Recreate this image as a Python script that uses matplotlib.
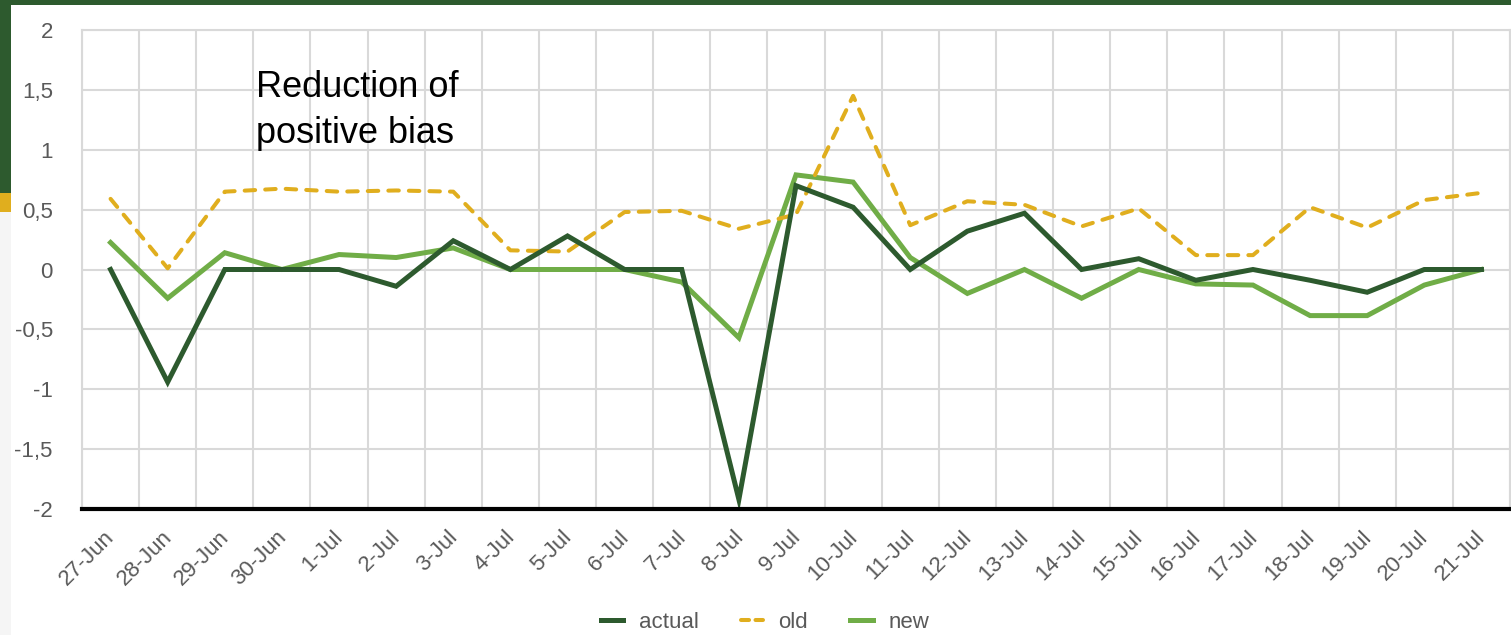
import matplotlib
matplotlib.use("Agg")
import matplotlib.pyplot as plt
import matplotlib.transforms as mtransforms
from matplotlib.patches import Rectangle
from matplotlib.lines import Line2D

dates = ["27-Jun", "28-Jun", "29-Jun", "30-Jun", "1-Jul", "2-Jul", "3-Jul",
         "4-Jul", "5-Jul", "6-Jul", "7-Jul", "8-Jul", "9-Jul", "10-Jul",
         "11-Jul", "12-Jul", "13-Jul", "14-Jul", "15-Jul", "16-Jul",
         "17-Jul", "18-Jul", "19-Jul", "20-Jul", "21-Jul"]

actual = [0.00, -0.94, 0.00, 0.00, 0.00, -0.14, 0.24, 0.00, 0.28, 0.00,
          0.00, -1.92, 0.70, 0.52, 0.00, 0.32, 0.47, 0.00, 0.09, -0.09,
          0.00, -0.09, -0.19, 0.00, 0.00]

old = [0.59, 0.01, 0.65, 0.675, 0.65, 0.66, 0.65, 0.16, 0.15, 0.48,
       0.49, 0.34, 0.46, 1.45, 0.37, 0.57, 0.54, 0.36, 0.51, 0.12,
       0.12, 0.52, 0.35, 0.58, 0.64]

new = [0.225, -0.24, 0.14, 0.00, 0.125, 0.10, 0.18, 0.00, 0.00, 0.00,
       -0.105, -0.57, 0.79, 0.73, 0.10, -0.20, 0.00, -0.24, 0.00, -0.12,
       -0.13, -0.385, -0.385, -0.13, 0.00]

y_ticks = [-2, -1.5, -1, -0.5, 0, 0.5, 1, 1.5, 2]
y_labels = ["-2", "-1,5", "-1", "-0,5", "0", "0,5", "1", "1,5", "2"]

C_ACTUAL = "#2d5a2e"
C_OLD = "#e0ae1e"
C_NEW = "#70ad47"
C_GRID = "#d9d9d9"
C_TEXT = "#595959"

plt.rcParams["font.family"] = ["Liberation Sans", "DejaVu Sans"]

W, H = 1511, 635
fig = plt.figure(figsize=(W / 100, H / 100), dpi=100)
fig.patch.set_facecolor("white")

# decorative frame: top band and left side strip
fig.patches.append(Rectangle((0, 1 - 5 / H), 1, 5 / H, transform=fig.transFigure,
                             facecolor=C_ACTUAL, edgecolor="none", zorder=0))
fig.patches.append(Rectangle((0, 0), 11 / W, 1 - 212 / H, transform=fig.transFigure,
                             facecolor="#f5f5f5", edgecolor="none", zorder=0))
fig.patches.append(Rectangle((0, 1 - 212 / H), 11 / W, 19 / H, transform=fig.transFigure,
                             facecolor=C_OLD, edgecolor="none", zorder=0))
fig.patches.append(Rectangle((0, 1 - 193 / H), 11 / W, 193 / H, transform=fig.transFigure,
                             facecolor=C_ACTUAL, edgecolor="none", zorder=0))

left, right, top, bottom = 82, 1510, 30, 509
ax = fig.add_axes([left / W, 1 - bottom / H, (right - left) / W, (bottom - top) / H])

x = list(range(len(dates)))
ax.plot(x, new, color=C_NEW, lw=3.6, solid_joinstyle="miter", zorder=3)
ax.plot(x, old, color=C_OLD, lw=2.9, linestyle=(0, (2.6, 2.5)),
        dash_capstyle="round", zorder=4)
ax.plot(x, actual, color=C_ACTUAL, lw=3.6, solid_joinstyle="miter", zorder=5)

ax.set_xlim(-0.5, len(dates) - 0.5)
ax.set_ylim(-2, 2)

ax.set_yticks(y_ticks)
ax.set_yticklabels(y_labels)
ax.set_xticks(x)
ax.set_xticklabels(dates, rotation=45, ha="right", va="center",
                   rotation_mode="anchor")
ax.set_xticks([i + 0.5 for i in range(-1, len(dates))], minor=True)

ax.tick_params(axis="both", which="both", length=0, labelsize=16,
               labelcolor=C_TEXT)
ax.tick_params(axis="y", pad=21)
ax.tick_params(axis="x", pad=18)
offset = mtransforms.ScaledTranslation(1 / 100, 0, fig.dpi_scale_trans)
for lab in ax.get_xticklabels():
    lab.set_transform(lab.get_transform() + offset)

ax.grid(axis="y", which="major", color=C_GRID, lw=1.5)
ax.grid(axis="x", which="minor", color=C_GRID, lw=1.5)
ax.grid(axis="x", which="major", visible=False)
ax.set_axisbelow(True)

for side in ("left", "right", "top"):
    ax.spines[side].set_color(C_GRID)
    ax.spines[side].set_linewidth(1.5)
ax.spines["bottom"].set_color("black")
ax.spines["bottom"].set_linewidth(3)
ax.spines["bottom"].set_zorder(6)

ax.text(256 / W, 1 - 70 / H, "Reduction of\npositive bias", transform=fig.transFigure,
        fontsize=26, color="black", ha="left", va="top", linespacing=1.42)

handles = [
    Line2D([], [], color=C_ACTUAL, lw=3.6),
    Line2D([], [], color=C_OLD, lw=2.9, linestyle=(0, (2.0, 1.6)), dash_capstyle="round"),
    Line2D([], [], color=C_NEW, lw=3.6),
]
fig.legend(handles, ["actual", "old", "new"], loc="center",
           bbox_to_anchor=(765 / W, 13 / H), ncol=3, frameon=False,
           fontsize=16, labelcolor=C_TEXT, handlelength=1.0,
           handletextpad=0.7, columnspacing=1.9)

fig.savefig("out.png", dpi=100)
